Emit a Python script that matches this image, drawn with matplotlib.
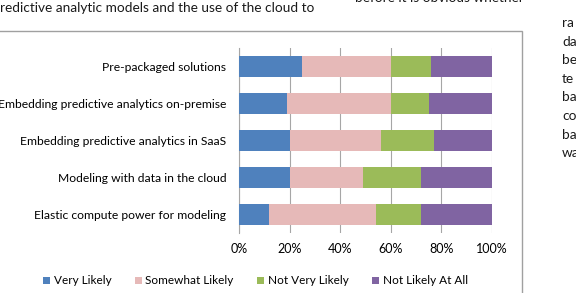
import numpy as np
import matplotlib.pyplot as plt
from matplotlib.patches import Rectangle, Patch

plt.rcParams['font.family'] = ['Lato', 'DejaVu Sans']

# Survey data (percent of respondents)
categories = ['Pre-packaged solutions',
              'Embedding predictive analytics on-premise',
              'Embedding predictive analytics in SaaS',
              'Modeling with data in the cloud',
              'Elastic compute power for modeling']
very_likely = [25, 19, 20, 20, 12]
somewhat_likely = [35, 41, 36, 29, 42]
not_very_likely = [16, 15, 21, 23, 18]
not_likely_at_all = [24, 25, 23, 28, 28]
series_names = ['Very Likely', 'Somewhat Likely', 'Not Very Likely', 'Not Likely At All']
series_colors = ['#4F81BD', '#E6B9B8', '#9BBB59', '#8064A2']
xtick_values = [0, 20, 40, 60, 80, 100]
xtick_labels = ['0%', '20%', '40%', '60%', '80%', '100%']

W, H = 576, 293
fig = plt.figure(figsize=(W / 100, H / 100), dpi=100)
fig.patch.set_facecolor('white')

# surrounding page text (cropped)
fig.text(0, 1 - 12 / H, 'redictive analytic models and the use of the cloud to',
         fontsize=9.8, color='#1a1a1a', va='baseline', ha='left')
fig.text(355 / W, 1 - 2 / H, 'before it is obvious whether',
         fontsize=9.8, color='#1a1a1a', va='baseline', ha='left')
side_words = ['ra', 'da', 'be', 'te', 'ba', 'co', 'ba', 'wa']
for i, w in enumerate(side_words):
    fig.text(562 / W, 1 - (27 + i * 18.6) / H, w, fontsize=9.8,
             color='#1a1a1a', va='baseline', ha='left')

# chart border
fig.patches.append(Rectangle((-0.05, -0.1), 0.05 + 522 / W, 0.1 + (H - 31) / H,
                             transform=fig.transFigure, fill=False,
                             edgecolor='#A0A0A0', linewidth=1.0))

ax = fig.add_axes([239 / W, (H - 233) / H, 253 / W, 185 / H])
y = np.arange(len(categories))[::-1]
left = np.zeros(len(categories))
data = [very_likely, somewhat_likely, not_very_likely, not_likely_at_all]
for vals, name, col in zip(data, series_names, series_colors):
    ax.barh(y, vals, left=left, height=0.55, color=col, label=name, zorder=3)
    left += np.array(vals)

ax.set_xlim(0, 100)
ax.set_ylim(-0.5, len(categories) - 0.5)
ax.set_xticks(xtick_values)
ax.set_xticklabels(xtick_labels)
ax.set_yticks(y)
ax.set_yticklabels(categories)
ax.tick_params(axis='both', length=0, colors='#000000')
ax.tick_params(axis='x', pad=7, labelsize=9)
ax.tick_params(axis='y', pad=9, labelsize=8.7)
ax.grid(axis='x', color='#A6A6A6', linewidth=0.8, zorder=0)
for s in ['top', 'right', 'bottom']:
    ax.spines[s].set_visible(False)
ax.spines['left'].set_color('#A6A6A6')
ax.spines['left'].set_linewidth(0.8)

handles = [Patch(facecolor=c, edgecolor='none') for c in series_colors]
fig.legend(handles, series_names, loc='center', ncol=4, frameon=False,
           bbox_to_anchor=(255.5 / W, (H - 281) / H), fontsize=8.5,
           handlelength=0.6, handleheight=0.6, handletextpad=0.3,
           columnspacing=2.0)

fig.savefig('out.png', dpi=100)
